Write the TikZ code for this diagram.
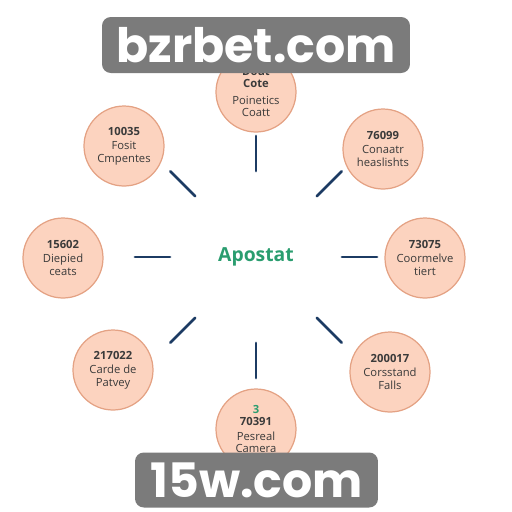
\documentclass[tikz,border=0pt]{standalone}
\usepackage{fontspec}
\setmainfont{Open Sans}
\newfontfamily\stampfont{Poppins}
\begin{document}
\begin{tikzpicture}[x=0.02cm, y=-0.02cm,
  hub/.style={circle, draw=ringedge, fill=ringfill, line width=0.7pt,
    minimum size=1.6cm, inner sep=0pt, align=center, text=labeltext,
    font=\fontsize{6.4}{7.2}\selectfont},
  spoke/.style={draw=spokeblue, line width=1.6pt, line cap=round},
  stamp/.style={fill=stampgray, rounded corners=5pt, text=white, inner sep=0pt,
    font=\stampfont\fontsize{27}{30}\selectfont\bfseries}]

  % Frame of the page
  \useasboundingbox (0,0) rectangle (512,512);

  % Colours
  \definecolor{ringfill}{HTML}{FCD3BF}
  \definecolor{ringedge}{HTML}{E4A284}
  \definecolor{labeltext}{HTML}{3A3A3A}
  \definecolor{spokeblue}{HTML}{1C3B63}
  \definecolor{hubgreen}{HTML}{2A9D6F}
  \definecolor{stampgray}{HTML}{7B7B7B}

  % Centre word
  \node[text=hubgreen, font=\fontsize{11}{13}\selectfont\bfseries] (apostat) at (256,257) {Apostat};

  % Short spokes round the centre
  \foreach \a in {0,45,...,315}
    \draw[spoke] (apostat.center) ++(\a:86) coordinate (s-in-\a) -- ++(\a:35) coordinate (s-out-\a);

  % Circles, clockwise from the top
  \node[hub] (top) at (256,92) {\textbf{Dout}\\\textbf{Cote}\\[2pt]Poinetics\\Coatt};
  \node[hub] (topright) at (383,149) {\textbf{76099}\\[1pt]Conaatr\\heaslishts};
  \node[hub] (right) at (425,258) {\textbf{73075}\\[1pt]Coormelve\\tiert};
  \node[hub] (botright) at (390,372) {\textbf{200017}\\[1pt]Corsstand\\Falls};
  \node[hub] (bottom) at (256,429) {\textcolor{hubgreen}{\textbf{3}}\\\textbf{70391}\\[1pt]Pesreal\\Camera};
  \node[hub] (botleft) at (113,370) {\textbf{217022}\\[1pt]Carde de\\Patvey};
  \node[hub] (left) at (63,258) {\textbf{15602}\\[1pt]Diepied\\ceats};
  \node[hub] (topleft) at (124,146) {\textbf{10035}\\[1pt]Fosit\\Cmpentes};

  % Grey stamps laid over the picture
  \node[stamp, minimum width=6.16cm, minimum height=1.12cm] (stamptop) at (256,45) {bzrbet.com};
  \node[stamp, minimum width=4.86cm, minimum height=1.1cm] (stampbot) at (256.5,480) {15w.com};

\end{tikzpicture}
\end{document}
